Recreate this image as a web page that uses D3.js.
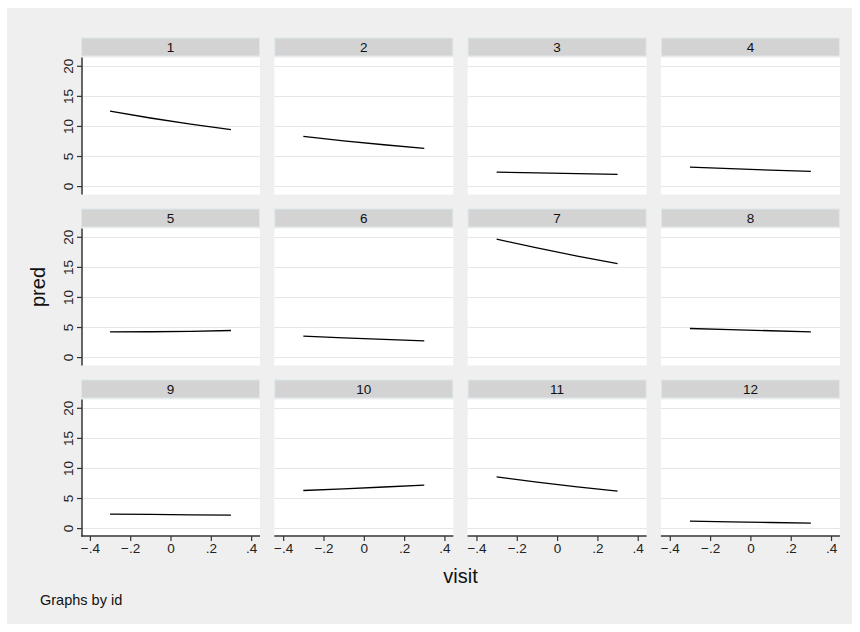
<!DOCTYPE html>
<html>
<head>
<meta charset="utf-8">
<script src="https://cdn.jsdelivr.net/npm/d3@7"></script>
<style>
  html, body { margin: 0; padding: 0; background: #ffffff; }
  svg { display: block; font-family: "Liberation Sans", Arial, sans-serif; }
</style>
</head>
<body>
<svg id="chart" width="860" height="632"></svg>
<script>
// Predicted counts by visit, one panel per subject id
const ids = [1, 2, 3, 4, 5, 6, 7, 8, 9, 10, 11, 12];
const visits = [-0.3, -0.1, 0.1, 0.3];
const pred1  = [12.45, 11.32, 10.30, 9.37];
const pred2  = [8.26, 7.53, 6.87, 6.26];
const pred3  = [2.33, 2.19, 2.06, 1.94];
const pred4  = [3.16, 2.90, 2.66, 2.44];
const pred5  = [4.20, 4.21, 4.28, 4.42];
const pred6  = [3.49, 3.21, 2.95, 2.71];
const pred7  = [19.60, 18.15, 16.80, 15.55];
const pred8  = [4.75, 4.56, 4.38, 4.20];
const pred9  = [2.33, 2.27, 2.21, 2.16];
const pred10 = [6.25, 6.53, 6.83, 7.14];
const pred11 = [8.50, 7.65, 6.85, 6.15];
const pred12 = [1.16, 1.04, 0.93, 0.83];
const predById = [pred1, pred2, pred3, pred4, pred5, pred6, pred7, pred8, pred9, pred10, pred11, pred12];
const xTicks = [-0.4, -0.2, 0, 0.2, 0.4];
const yTicks = [0, 5, 10, 15, 20];
const xTitle = "visit";
const yTitle = "pred";
const note = "Graphs by id";

const svg = d3.select("#chart");

// outer graph region
svg.append("rect")
  .attr("x", 7).attr("y", 8).attr("width", 845).attr("height", 616)
  .attr("fill", "#efefef");

const nCols = 4, nRows = 3;
const colLeft = 81, colStep = 193.3, panelW = 179;
const rowTop = 37.5, rowStep = 171, stripH = 19, plotOffset = 20, plotH = 137;

const fmtTick = v => {
  if (v === 0) return "0";
  const s = Math.abs(v).toString().replace(/^0/, "");
  return (v < 0 ? "\u2212" : "") + s;
};

ids.forEach((id, i) => {
  const c = i % nCols, r = Math.floor(i / nCols);
  const left = colLeft + c * colStep;
  const top = rowTop + r * rowStep;
  const plotTop = top + plotOffset;
  const plotBottom = plotTop + plotH;

  const x = d3.scaleLinear().domain([-0.444, 0.444]).range([left, left + panelW]);
  const y = d3.scaleLinear().domain([-1.4, 21.38]).range([plotBottom, plotTop]);

  const g = svg.append("g");

  // strip with id label
  g.append("rect")
    .attr("x", left + 0.5).attr("y", top + 0.5)
    .attr("width", panelW - 1).attr("height", stripH - 1)
    .attr("fill", "#d3d3d3").attr("stroke", "#dde7ec").attr("stroke-width", 1);
  g.append("text")
    .attr("x", left + panelW / 2).attr("y", top + stripH / 2 + 5)
    .attr("text-anchor", "middle")
    .attr("font-size", 13.5).attr("fill", "#111")
    .text(id);

  // plot region
  g.append("rect")
    .attr("x", left).attr("y", plotTop)
    .attr("width", panelW).attr("height", plotH)
    .attr("fill", "#ffffff");

  // horizontal grid
  g.selectAll(".grid").data(yTicks).enter().append("line")
    .attr("x1", left).attr("x2", left + panelW)
    .attr("y1", d => Math.round(y(d)) + 0.5).attr("y2", d => Math.round(y(d)) + 0.5)
    .attr("stroke", "#e6e6e6").attr("stroke-width", 1);

  // prediction line
  const pts = visits.map((v, k) => [v, predById[i][k]]);
  g.append("path")
    .datum(pts)
    .attr("fill", "none")
    .attr("stroke", "#000")
    .attr("stroke-width", 1.3)
    .attr("d", d3.line().x(d => x(d[0])).y(d => y(d[1])));

  // left axis on first column
  if (c === 0) {
    const ya = g.append("g")
      .attr("transform", `translate(${left + 1},0)`)
      .call(d3.axisLeft(y).tickValues(yTicks).tickSize(5).tickFormat(fmtTick));
    ya.select(".domain").remove();
    ya.append("line")
      .attr("x1", 0).attr("x2", 0).attr("y1", plotTop).attr("y2", plotBottom)
      .attr("stroke", "#333").attr("stroke-width", 1.5);
    ya.selectAll(".tick line").attr("stroke", "#333").attr("stroke-width", 1.2);
    ya.selectAll(".tick text")
      .attr("font-size", 13.5).attr("fill", "#222")
      .attr("font-family", "'Liberation Sans', Arial, sans-serif")
      .attr("transform", "rotate(-90)")
      .attr("x", 0).attr("y", -9)
      .attr("dy", 0)
      .attr("text-anchor", "middle");
  }

  // bottom axis on last row
  if (r === nRows - 1) {
    const xa = g.append("g")
      .attr("transform", `translate(0,${plotBottom - 0.5})`)
      .call(d3.axisBottom(x).tickValues(xTicks).tickSize(5).tickFormat(fmtTick));
    xa.select(".domain").remove();
    xa.append("line")
      .attr("x1", left).attr("x2", left + panelW).attr("y1", 0).attr("y2", 0)
      .attr("stroke", "#333").attr("stroke-width", 1.5);
    xa.selectAll(".tick line").attr("stroke", "#333").attr("stroke-width", 1.2);
    xa.selectAll(".tick text")
      .attr("font-size", 13.5).attr("fill", "#222")
      .attr("font-family", "'Liberation Sans', Arial, sans-serif")
      .attr("y", 7);
  }
});

// axis titles
svg.append("text")
  .attr("transform", "translate(45,287) rotate(-90)")
  .attr("text-anchor", "middle")
  .attr("font-size", 20).attr("fill", "#111")
  .text(yTitle);

svg.append("text")
  .attr("x", 460.5).attr("y", 583)
  .attr("text-anchor", "middle")
  .attr("font-size", 20).attr("fill", "#111")
  .text(xTitle);

svg.append("text")
  .attr("x", 40).attr("y", 605)
  .attr("font-size", 14.5).attr("fill", "#111")
  .text(note);
</script>
</body>
</html>
